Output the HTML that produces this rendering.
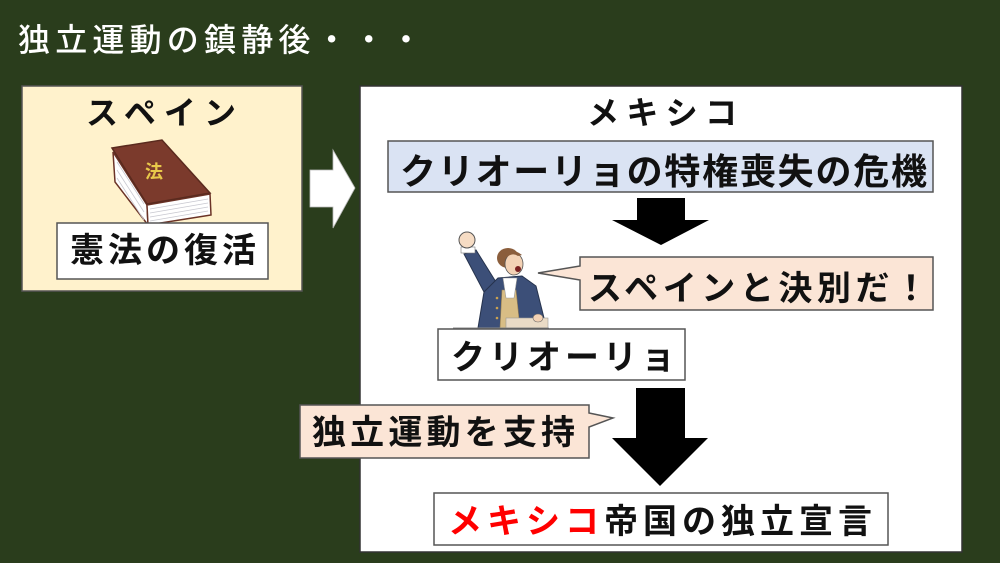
<!DOCTYPE html>
<html><head><meta charset="utf-8">
<style>
html,body{margin:0;padding:0;background:#2a3d1c;}
svg{display:block;}
text{font-family:"Liberation Sans","Noto Sans CJK JP",sans-serif;font-weight:bold;}
</style></head>
<body>
<svg width="1000" height="563" viewBox="0 0 1000 563" xmlns="http://www.w3.org/2000/svg">
<rect x="0" y="0" width="1000" height="563" fill="#2a3d1c"/>

<!-- Title -->
<text x="18" y="51" font-size="32" fill="#ffffff" style="font-weight:500" textLength="404" lengthAdjust="spacing">独立運動の鎮静後・・・</text>

<!-- Spain box -->
<rect x="22" y="86" width="280" height="205" fill="#fff2cc" stroke="#555" stroke-width="1.5"/>
<text x="86" y="124" font-size="32" fill="#111" textLength="150" lengthAdjust="spacing">スペイン</text>

<!-- Book -->
<g>
<polygon points="113,152 147,205 148,225 115,182" fill="#ffffff" stroke="#6b3326" stroke-width="1.5"/>
<polygon points="147,205 210,194 211,215 148,225" fill="#ffffff" stroke="#6b3326" stroke-width="1.5"/>
<g stroke="#c8c8d0" stroke-width="0.8">
<line x1="150" y1="209" x2="208" y2="199"/>
<line x1="150" y1="213" x2="208" y2="203"/>
<line x1="150" y1="217" x2="208" y2="207"/>
<line x1="150" y1="221" x2="208" y2="211"/>
<line x1="117" y1="162" x2="144" y2="204"/>
<line x1="117" y1="170" x2="144" y2="212"/>
<line x1="117" y1="178" x2="144" y2="220"/>
</g>
<polygon points="112,148 162,140 210,193 147,204" fill="#7b3a2c" stroke="#5a2a1e" stroke-width="1.5"/>
<text x="145" y="178" font-size="18" font-weight="bold" fill="#e8c84a">法</text>
</g>

<!-- 憲法の復活 -->
<rect x="57" y="223" width="211" height="56" fill="#ffffff" stroke="#555" stroke-width="1.5"/>
<text x="70" y="262" font-size="34" fill="#111" textLength="186" lengthAdjust="spacing">憲法の復活</text>

<!-- White arrow -->
<polygon points="310,170 333,170 333,150 355,188 333,228 333,207 310,207" fill="#ffffff" stroke="#bbb" stroke-width="0.8"/>

<!-- Mexico box -->
<rect x="360" y="86" width="602" height="466" fill="#ffffff" stroke="#333" stroke-width="1.5"/>
<text x="587" y="124" font-size="32" fill="#111" textLength="150" lengthAdjust="spacing">メキシコ</text>

<!-- Blue box -->
<rect x="388" y="141" width="545" height="51" fill="#dae3f3" stroke="#555" stroke-width="1.5"/>
<text x="400" y="184" font-size="36" fill="#111" textLength="527" lengthAdjust="spacing">クリオーリョの特権喪失の危機</text>

<!-- Arrow 1 -->
<polygon points="637,198 685,198 685,220 709,220 661,245 612,220 637,220" fill="#000"/>

<!-- Person -->
<g>
<polygon points="484,292 496,282 476,250 464,254" fill="#3c4f78" stroke="#26334d" stroke-width="1"/>
<rect x="461" y="247" width="14" height="6" fill="#fff" stroke="#777" stroke-width="0.6"/>
<ellipse cx="467" cy="240" rx="8" ry="8" fill="#f6dcc4" stroke="#555" stroke-width="1"/>
<polygon points="478,328 484,292 498,278 522,276 536,286 544,318 548,328" fill="#3c4f78" stroke="#26334d" stroke-width="1"/>
<polygon points="502,290 516,290 520,328 500,328" fill="#d8bd85" stroke="#9a8050" stroke-width="0.6"/>
<polygon points="503,278 517,278 514,298 506,298" fill="#ffffff" stroke="#999" stroke-width="0.6"/>
<circle cx="497" cy="298" r="1.3" fill="#c9a050"/>
<circle cx="497" cy="308" r="1.3" fill="#c9a050"/>
<circle cx="497" cy="318" r="1.3" fill="#c9a050"/>
<ellipse cx="508" cy="258" rx="11" ry="10" fill="#8b5e3c"/>
<ellipse cx="514" cy="264" rx="9" ry="11" fill="#f3d2b5" stroke="#555" stroke-width="0.8"/>
<path d="M505,254 Q512,247 522,255 L518,256 Q512,252 506,258 Z" fill="#8b5e3c"/>
<ellipse cx="518" cy="269" rx="3" ry="3" fill="#7a2020"/>
<rect x="506" y="318" width="42" height="10" fill="#eadbc6" stroke="#999" stroke-width="0.6"/>
<ellipse cx="538" cy="318" rx="5" ry="4" fill="#f3d2b5" stroke="#666" stroke-width="0.6"/>
<line x1="453" y1="328" x2="548" y2="328" stroke="#888" stroke-width="1"/>
</g>

<!-- Bubble 1 -->
<path d="M580,257 H933 V310 H580 V280 L538,273 L580,266 Z" fill="#fbe5d6" stroke="#555" stroke-width="1.5"/>
<text x="588" y="300" font-size="34" fill="#111" textLength="340" lengthAdjust="spacing">スペインと決別だ！</text>

<!-- Criollo box -->
<rect x="438" y="329" width="247" height="51" fill="#ffffff" stroke="#555" stroke-width="1.5"/>
<text x="451" y="369" font-size="34" fill="#111" textLength="224" lengthAdjust="spacing">クリオーリョ</text>

<!-- Arrow 2 -->
<polygon points="636,388 685,388 685,438 708,438 660,486 612,438 636,438" fill="#000"/>

<!-- Bubble 2 -->
<path d="M300,405 H589 V413 L613,418 L589,427 V458 H300 Z" fill="#fbe5d6" stroke="#555" stroke-width="1.5"/>
<text x="312" y="444" font-size="34" fill="#111" textLength="263" lengthAdjust="spacing">独立運動を支持</text>

<!-- Final box -->
<rect x="434" y="493" width="454" height="52" fill="#ffffff" stroke="#555" stroke-width="1.5"/>
<text x="448" y="533" font-size="34" fill="#111" textLength="424" lengthAdjust="spacing"><tspan fill="#ff0000">メキシコ</tspan>帝国の独立宣言</text>
</svg>
</body></html>
